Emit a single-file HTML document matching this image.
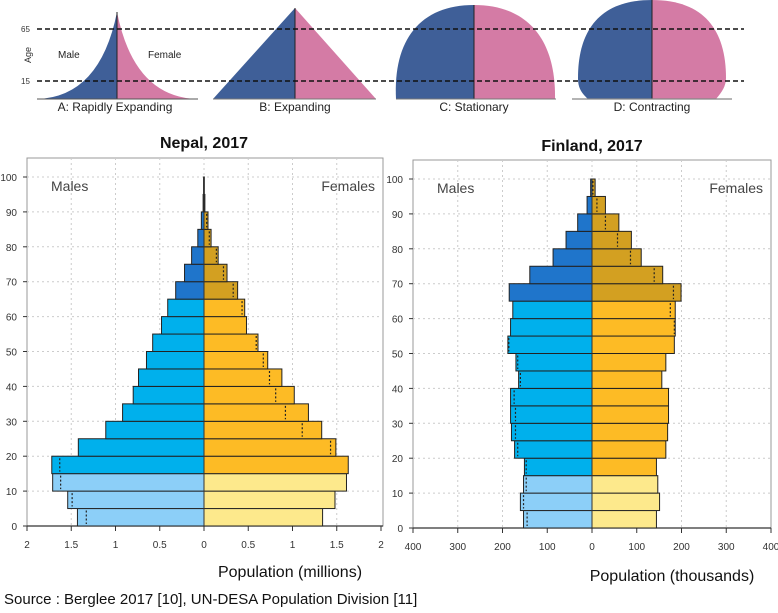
<!DOCTYPE html>
<html><head><meta charset="utf-8"><style>
body{margin:0;background:#fff;width:778px;height:608px;overflow:hidden;font-family:"Liberation Sans",sans-serif}
svg text{font-family:"Liberation Sans",sans-serif}
</style></head><body>
<svg id="s" width="778" height="608" viewBox="0 0 778 608" xmlns="http://www.w3.org/2000/svg">
<g>
  <path d="M37,99 Q100,97 117,12 L117,99Z" fill="#3f5f98"/>
  <path d="M117,12 Q134,97 197,99 L117,99Z" fill="#d47ba5"/>
  <line x1="117" y1="12" x2="117" y2="99" stroke="#222" stroke-width="1"/>
  <line x1="37" y1="99" x2="198" y2="99" stroke="#555" stroke-width="1"/>
  <path d="M213,99 L295,8 L295,99Z" fill="#3f5f98"/>
  <path d="M295,8 L376,99 L295,99Z" fill="#d47ba5"/>
  <line x1="295" y1="8" x2="295" y2="99" stroke="#222"/>
  <line x1="213" y1="99" x2="376" y2="99" stroke="#777"/>
  <path d="M396,99 C393,40 420,5 474,5 L474,99Z" fill="#3f5f98"/>
  <path d="M474,5 C528,5 556,40 555,99 L474,99Z" fill="#d47ba5"/>
  <line x1="474" y1="5" x2="474" y2="99" stroke="#222"/>
  <line x1="396" y1="99" x2="556" y2="99" stroke="#777"/>
  <path d="M588,99 C580,92 578,86 578,78 C578,30 600,0 652,0 L652,99Z" fill="#3f5f98"/>
  <path d="M652,0 C704,0 726,30 726,78 C726,86 722,92 716,99 L652,99Z" fill="#d47ba5"/>
  <line x1="652" y1="0" x2="652" y2="99" stroke="#222"/>
  <line x1="572" y1="99" x2="732" y2="99" stroke="#888" stroke-width="1.2"/>
  <line x1="37" y1="29" x2="744" y2="29" stroke="#111" stroke-width="1.6" stroke-dasharray="5,3"/>
  <line x1="37" y1="81" x2="744" y2="81" stroke="#111" stroke-width="1.6" stroke-dasharray="5,3"/>
  <text x="21" y="32" font-size="8" fill="#333">65</text>
  <text x="21" y="84" font-size="8" fill="#333">15</text>
  <text x="31" y="55" font-size="9" fill="#333" transform="rotate(-90 31 55)" text-anchor="middle">Age</text>
  <text x="58" y="58" font-size="10" fill="#222">Male</text>
  <text x="148" y="58" font-size="10" fill="#222">Female</text>
  <text x="115" y="111" font-size="12" fill="#222" text-anchor="middle">A: Rapidly Expanding</text>
  <text x="295" y="111" font-size="12" fill="#222" text-anchor="middle">B: Expanding</text>
  <text x="474" y="111" font-size="12" fill="#222" text-anchor="middle">C: Stationary</text>
  <text x="652" y="111" font-size="12" fill="#222" text-anchor="middle">D: Contracting</text>
</g>
<text x="204" y="148" font-size="16" font-weight="bold" text-anchor="middle" fill="#111">Nepal, 2017</text>
<text x="592" y="151" font-size="16" font-weight="bold" text-anchor="middle" fill="#111">Finland, 2017</text>
<text x="290" y="577" font-size="16" text-anchor="middle" fill="#111">Population (millions)</text>
<text x="672" y="581" font-size="16" text-anchor="middle" fill="#111">Population (thousands)</text>
<text x="4" y="604" font-size="15" fill="#111">Source : Berglee 2017 [10], UN-DESA Population Division [11]</text>
<g id="nepal"></g><g id="finland"></g>
</svg>
<script>
const ageTicks=[0,10,20,30,40,50,60,70,80,90,100];
const nepalTicks=[2,1.5,1,0.5,0,0.5,1,1.5,2];
const nepalMale=[1.43,1.54,1.71,1.72,1.42,1.11,0.92,0.80,0.74,0.65,0.58,0.48,0.41,0.32,0.22,0.14,0.07,0.03,0.01,0.005];
const nepalFemale=[1.34,1.48,1.61,1.63,1.49,1.33,1.18,1.02,0.88,0.72,0.61,0.48,0.46,0.38,0.26,0.16,0.08,0.045,0.01,0.004];
const nepalMaleDot=[1.33,1.49,1.62,1.63,null,null,null,null,null,null,null,null,null,null,null,null,null,null,null,null];
const nepalFemaleDot=[null,null,null,null,1.43,1.11,0.92,0.81,0.74,0.67,0.59,null,0.43,0.33,0.22,0.14,0.06,0.03,null,null];
const finTicks=[400,300,200,100,0,100,200,300,400];
const finMale=[153,160,153,151,173,180,182,182,164,170,188,182,177,185,139,87,58,32,11,3];
const finFemale=[144,151,147,144,165,169,171,171,156,165,184,186,186,199,158,110,88,60,30,7];
const finMaleDot=[145,153,147,147,166,171,171,174,160,166,186,null,null,null,null,null,null,null,null,null];
const finFemaleDot=[null,null,null,null,null,null,null,null,null,null,null,184,175,182,139,86,57,30,11,2];
const NS='http://www.w3.org/2000/svg';
function mk(p,t,a){const e=document.createElementNS(NS,t);for(const k in a)e.setAttribute(k,a[k]);p.appendChild(e);return e;}
function draw(gid,cfg){
  const g=document.getElementById(gid);
  const xs=v=>cfg.cx+v*cfg.k, ys=a=>cfg.y0-(a/100)*(cfg.y0-cfg.y100);
  const fr=mk(g,'rect',{x:cfg.l,y:cfg.top,width:cfg.r-cfg.l,height:cfg.y0-cfg.top,fill:'none',stroke:'#999','stroke-width':1});
  
  
  cfg.ticks.forEach((t,i)=>{
    const v=(i-4)*cfg.step, x=xs(v);
    if(i>0&&i<8) mk(g,'line',{x1:x,y1:cfg.top,x2:x,y2:cfg.y0,stroke:'#ccc','stroke-dasharray':'2,3'});
    mk(g,'line',{x1:x,y1:cfg.y0,x2:x,y2:cfg.y0+5,stroke:'#333'});
    const tx=mk(g,'text',{x:x,y:cfg.y0+22,'font-size':10,'text-anchor':'middle',fill:'#333'});
    tx.textContent=t;
    
    
  });
  ageTicks.forEach(a=>{
    const y=ys(a);
    if(a>0) mk(g,'line',{x1:cfg.l,y1:y,x2:cfg.r,y2:y,stroke:'#ccc','stroke-dasharray':'2,3'});
    mk(g,'line',{x1:cfg.l-4,y1:y,x2:cfg.l,y2:y,stroke:'#333'});
    const tx=mk(g,'text',{x:cfg.ylx,y:y+4,'font-size':10,'text-anchor':'end',fill:'#333'});
    tx.textContent=a;
    
    
  });
  mk(g,'line',{x1:cfg.l,y1:cfg.y0,x2:cfg.r,y2:cfg.y0,stroke:'#333','stroke-width':1.3});
  const col=(i,f)=> i<3?(f?'#fde98c':'#8ccff8'):(i<13?(f?'#fdbb25':'#00b0ec'):(f?'#d3a021':'#1f75cb'));
  cfg.male.forEach((v,i)=>{
    const y1=ys(i*5+5),y2=ys(i*5),x=xs(-v);
    const r=mk(g,'rect',{x:x,y:y1,width:cfg.cx-x,height:y2-y1,fill:col(i,false),stroke:'#222','stroke-width':1});
    
    
    const d=cfg.mdot[i]; if(d!=null){const dx=xs(-d);mk(g,'line',{x1:dx,y1:y1+2,x2:dx,y2:y2-2,stroke:'#222','stroke-width':1.2,'stroke-dasharray':'2,2'});}
  });
  cfg.female.forEach((v,i)=>{
    const y1=ys(i*5+5),y2=ys(i*5),x=xs(v);
    const r=mk(g,'rect',{x:cfg.cx,y:y1,width:x-cfg.cx,height:y2-y1,fill:col(i,true),stroke:'#222','stroke-width':1});
    
    
    const d=cfg.fdot[i]; if(d!=null){const dx=xs(d);mk(g,'line',{x1:dx,y1:y1+2,x2:dx,y2:y2-2,stroke:'#222','stroke-width':1.2,'stroke-dasharray':'2,2'});}
  });
  mk(g,'line',{x1:cfg.cx,y1:ys(100),x2:cfg.cx,y2:cfg.y0,stroke:'#333'});
  const m=mk(g,'text',{x:cfg.l+24,y:ys(100)+14,'font-size':14,fill:'#444'});m.textContent='Males';
  
  
  const f=mk(g,'text',{x:cfg.r-8,y:ys(100)+14,'font-size':14,fill:'#444','text-anchor':'end'});f.textContent='Females';
  
  
}
draw('nepal',{l:27,r:383,top:158,cx:204,k:88.5,step:0.5,y0:526,y100:177,ticks:nepalTicks,ylx:17,male:nepalMale,female:nepalFemale,mdot:nepalMaleDot,fdot:nepalFemaleDot});
draw('finland',{l:413,r:771,top:160,cx:592,k:0.4475,step:100,y0:528,y100:179,ticks:finTicks,ylx:403,male:finMale,female:finFemale,mdot:finMaleDot,fdot:finFemaleDot});
</script>
</body></html>
